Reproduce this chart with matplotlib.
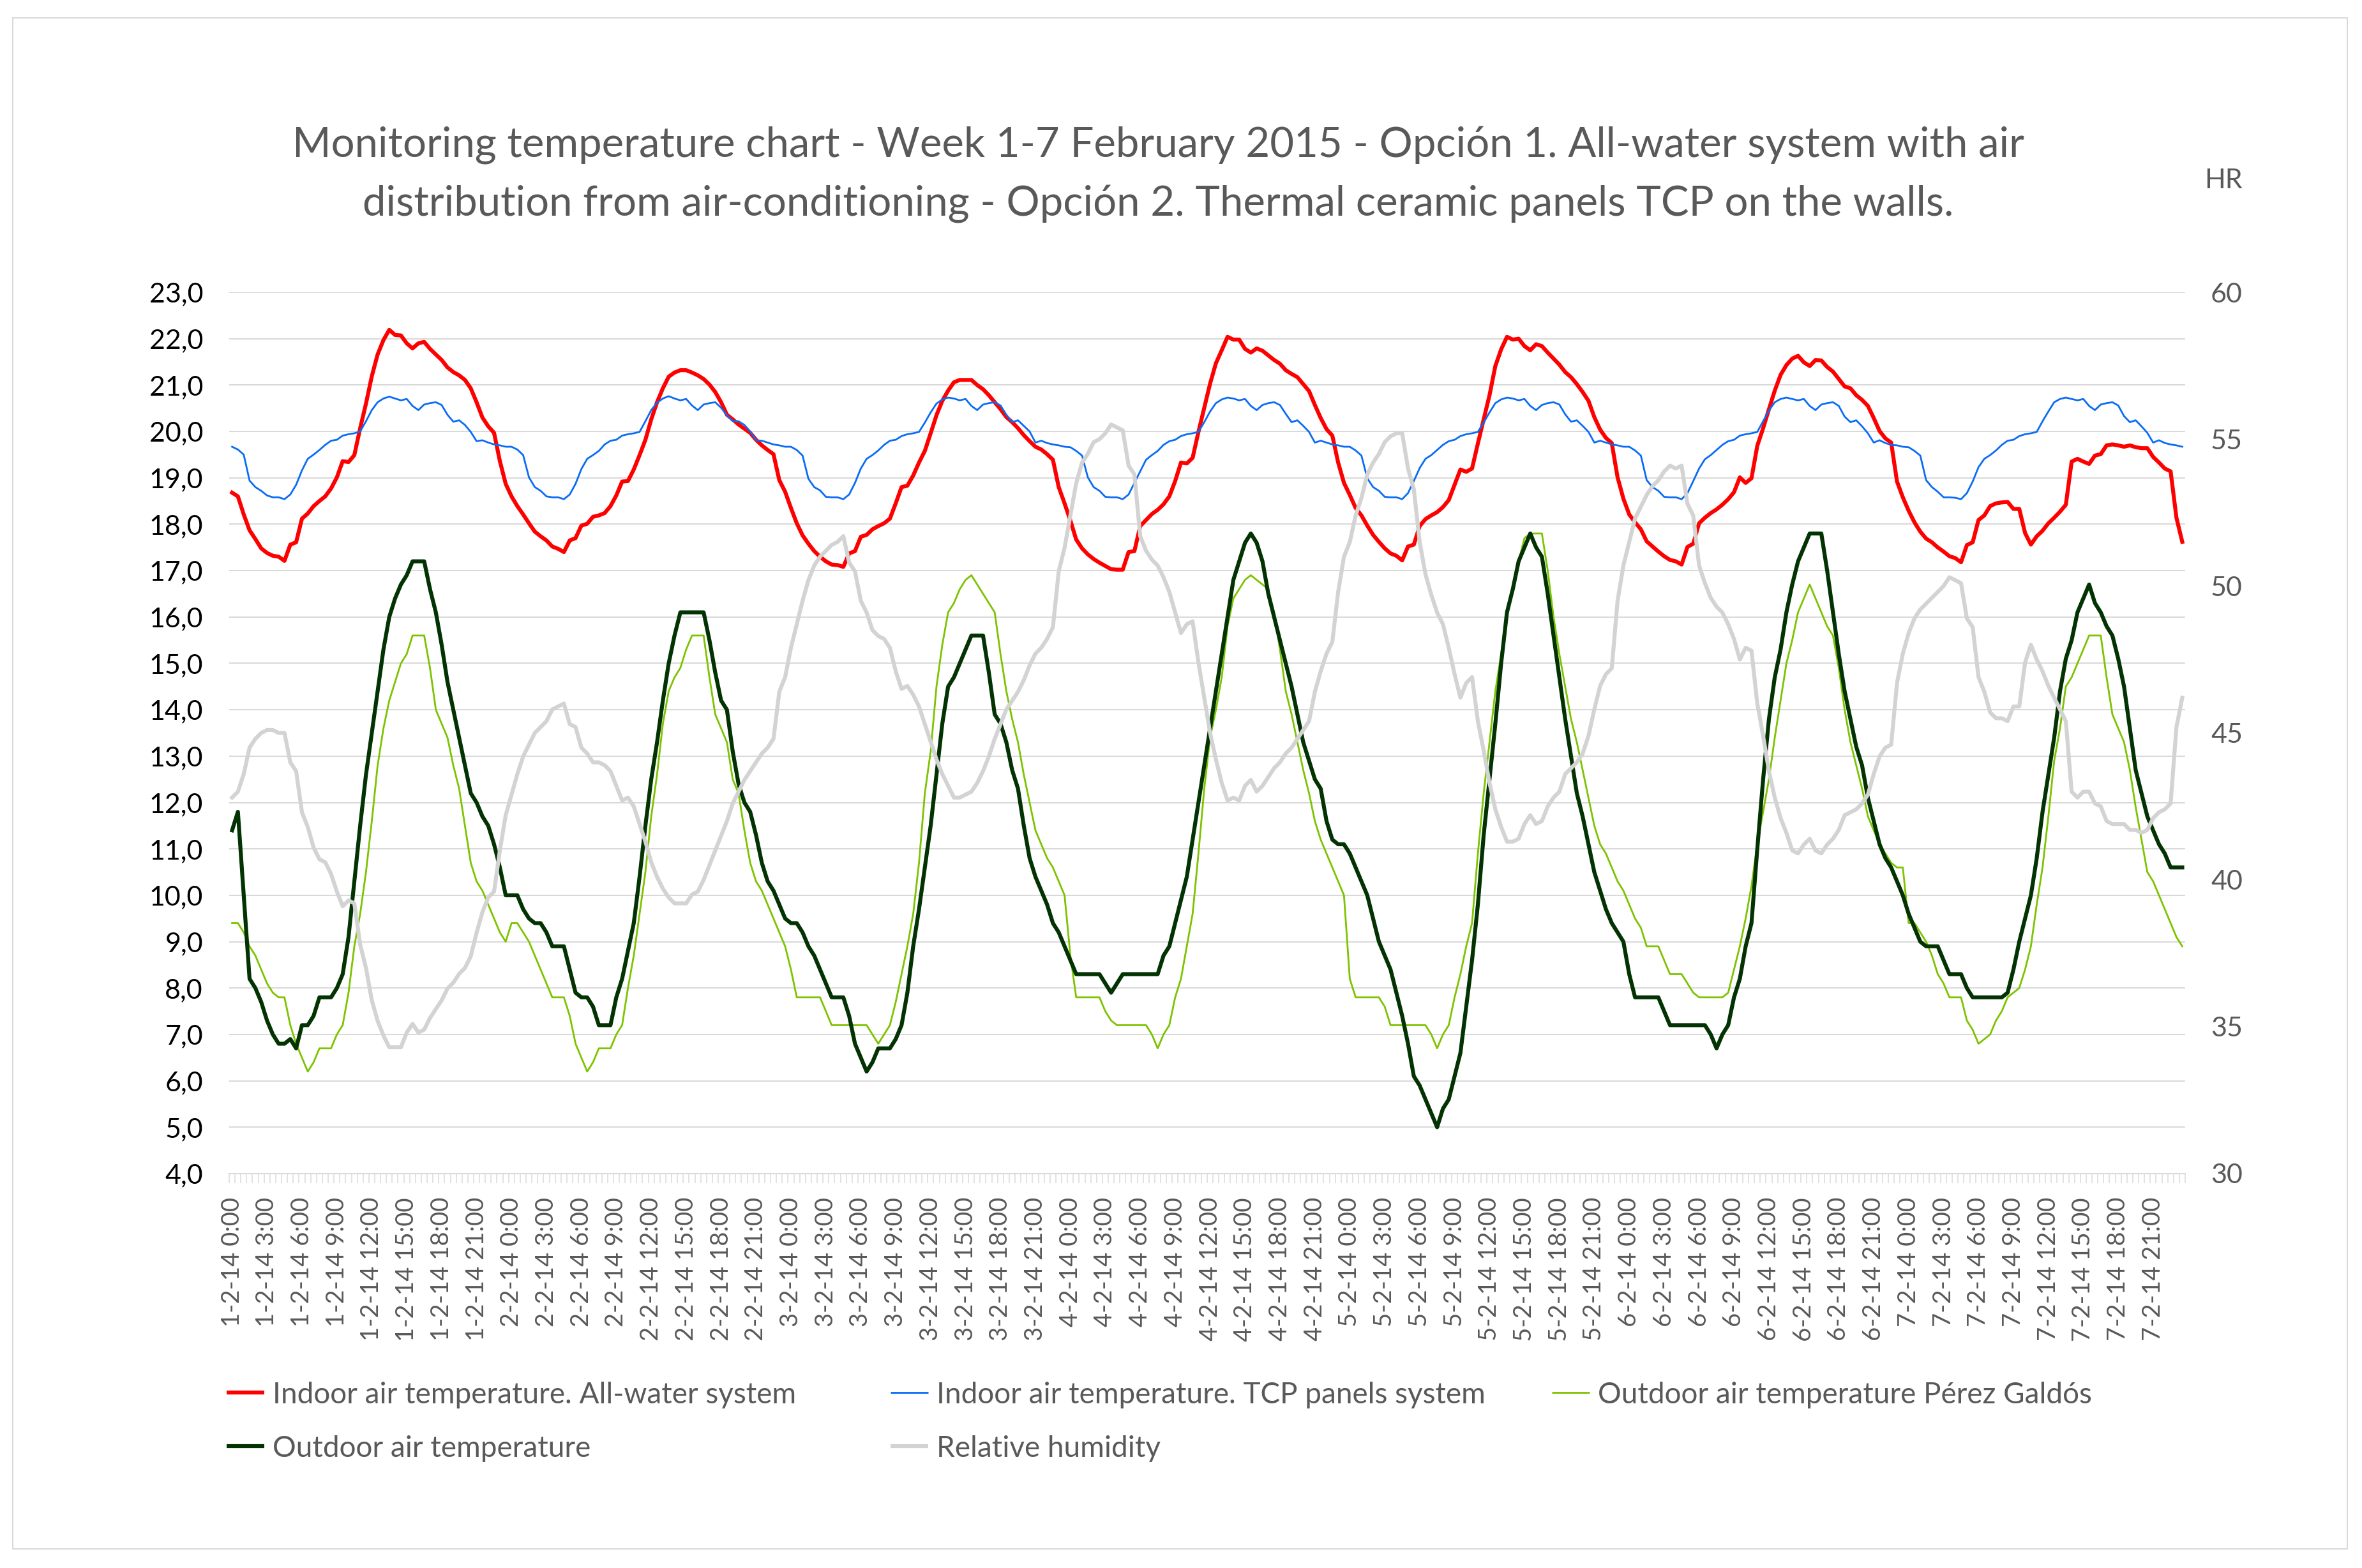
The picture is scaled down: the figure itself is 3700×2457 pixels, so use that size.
import numpy as np
import matplotlib
matplotlib.use("Agg")
import matplotlib.pyplot as plt
from matplotlib.lines import Line2D
from matplotlib.patches import Rectangle

plt.rcParams['font.family'] = ['Lato', 'DejaVu Sans']

# Half-hourly readings, 1-2-14 0:00 to 7-2-14 23:30 (336 values each)
indoor_allwater = [
    18.68, 18.60, 18.21, 17.87, 17.68, 17.48, 17.38, 17.32, 17.30, 17.21, 17.56, 17.61,
    18.12, 18.23, 18.39, 18.50, 18.60, 18.77, 19.01, 19.36, 19.34, 19.49, 20.07, 20.60,
    21.19, 21.66, 21.97, 22.19, 22.08, 22.07, 21.90, 21.79, 21.90, 21.93, 21.78, 21.66,
    21.54, 21.38, 21.28, 21.21, 21.11, 20.93, 20.63, 20.30, 20.11, 19.97, 19.36, 18.87,
    18.60, 18.39, 18.21, 18.02, 17.84, 17.74, 17.65, 17.52, 17.47, 17.40, 17.65, 17.70,
    17.97, 18.01, 18.16, 18.19, 18.24, 18.39, 18.62, 18.92, 18.93, 19.18, 19.49, 19.82,
    20.26, 20.63, 20.93, 21.18, 21.27, 21.32, 21.32, 21.27, 21.21, 21.13, 21.01, 20.85,
    20.63, 20.36, 20.26, 20.15, 20.06, 19.97, 19.82, 19.70, 19.60, 19.51, 18.95, 18.70,
    18.35, 18.02, 17.76, 17.58, 17.42, 17.30, 17.20, 17.13, 17.12, 17.08, 17.37, 17.42,
    17.73, 17.77, 17.89, 17.96, 18.02, 18.12, 18.45, 18.80, 18.83, 19.05, 19.33, 19.58,
    19.96, 20.35, 20.66, 20.88, 21.06, 21.11, 21.11, 21.11, 21.00, 20.91, 20.78, 20.63,
    20.48, 20.31, 20.20, 20.07, 19.92, 19.79, 19.67, 19.61, 19.51, 19.39, 18.80, 18.45,
    18.08, 17.67, 17.48, 17.35, 17.25, 17.17, 17.10, 17.03, 17.02, 17.02, 17.40, 17.42,
    17.96, 18.09, 18.22, 18.31, 18.43, 18.60, 18.93, 19.33, 19.31, 19.43, 19.99, 20.51,
    21.03, 21.47, 21.75, 22.04, 21.98, 21.98, 21.78, 21.70, 21.79, 21.74, 21.64, 21.54,
    21.46, 21.32, 21.24, 21.17, 21.02, 20.87, 20.57, 20.29, 20.05, 19.91, 19.33, 18.89,
    18.63, 18.35, 18.19, 17.97, 17.77, 17.62, 17.48, 17.37, 17.32, 17.22, 17.52, 17.56,
    17.96, 18.11, 18.19, 18.26, 18.37, 18.52, 18.85, 19.18, 19.13, 19.20, 19.74, 20.26,
    20.78, 21.41, 21.77, 22.04, 21.98, 22.00, 21.84, 21.75, 21.88, 21.84, 21.70, 21.57,
    21.44, 21.28, 21.17, 21.02, 20.85, 20.66, 20.31, 20.04, 19.86, 19.75, 19.01, 18.55,
    18.21, 18.04, 17.89, 17.63, 17.52, 17.41, 17.31, 17.23, 17.20, 17.13, 17.51, 17.58,
    18.02, 18.14, 18.24, 18.32, 18.42, 18.54, 18.69, 19.01, 18.89, 18.99, 19.69, 20.07,
    20.48, 20.88, 21.22, 21.43, 21.57, 21.63, 21.49, 21.41, 21.54, 21.53, 21.39, 21.29,
    21.13, 20.97, 20.93, 20.78, 20.68, 20.55, 20.29, 20.01, 19.85, 19.76, 18.92, 18.58,
    18.29, 18.04, 17.84, 17.69, 17.61, 17.50, 17.41, 17.31, 17.27, 17.18, 17.55, 17.61,
    18.09, 18.19, 18.39, 18.45, 18.47, 18.48, 18.33, 18.33, 17.81, 17.56, 17.74, 17.86,
    18.02, 18.14, 18.27, 18.42, 19.35, 19.41, 19.35, 19.30, 19.48, 19.51, 19.70, 19.72,
    19.70, 19.67, 19.70, 19.66, 19.64, 19.64, 19.45, 19.33, 19.20, 19.14, 18.14, 17.62,
]

indoor_tcp = [
    19.67, 19.61, 19.50, 18.94, 18.80, 18.72, 18.62, 18.58, 18.58, 18.54, 18.64, 18.85,
    19.16, 19.41, 19.50, 19.60, 19.71, 19.80, 19.82, 19.91, 19.94, 19.96, 20.00, 20.22,
    20.46, 20.63, 20.71, 20.75, 20.71, 20.67, 20.70, 20.55, 20.46, 20.58, 20.61, 20.63,
    20.57, 20.36, 20.21, 20.24, 20.14, 19.99, 19.79, 19.81, 19.76, 19.72, 19.70, 19.67,
    19.67, 19.61, 19.49, 19.01, 18.80, 18.72, 18.60, 18.58, 18.58, 18.54, 18.64, 18.87,
    19.19, 19.41, 19.49, 19.58, 19.72, 19.80, 19.82, 19.91, 19.94, 19.96, 19.99, 20.22,
    20.46, 20.62, 20.71, 20.76, 20.71, 20.67, 20.70, 20.56, 20.46, 20.58, 20.61, 20.63,
    20.51, 20.35, 20.22, 20.22, 20.14, 20.00, 19.81, 19.80, 19.76, 19.72, 19.70, 19.67,
    19.67, 19.60, 19.48, 18.98, 18.80, 18.73, 18.59, 18.58, 18.58, 18.54, 18.64, 18.89,
    19.20, 19.41, 19.49, 19.59, 19.71, 19.80, 19.82, 19.90, 19.94, 19.96, 19.99, 20.19,
    20.41, 20.60, 20.69, 20.73, 20.71, 20.67, 20.70, 20.55, 20.46, 20.58, 20.61, 20.63,
    20.56, 20.36, 20.20, 20.24, 20.12, 20.00, 19.76, 19.80, 19.75, 19.72, 19.70, 19.67,
    19.66, 19.58, 19.48, 19.01, 18.80, 18.72, 18.59, 18.58, 18.58, 18.54, 18.64, 18.89,
    19.14, 19.39, 19.49, 19.58, 19.71, 19.79, 19.82, 19.90, 19.94, 19.96, 19.99, 20.20,
    20.43, 20.61, 20.69, 20.73, 20.71, 20.67, 20.70, 20.55, 20.46, 20.57, 20.61, 20.63,
    20.57, 20.38, 20.20, 20.24, 20.12, 19.99, 19.76, 19.80, 19.76, 19.72, 19.70, 19.67,
    19.67, 19.59, 19.48, 18.99, 18.80, 18.72, 18.59, 18.58, 18.58, 18.54, 18.67, 18.93,
    19.21, 19.41, 19.49, 19.60, 19.71, 19.79, 19.82, 19.90, 19.94, 19.96, 19.99, 20.19,
    20.41, 20.61, 20.69, 20.73, 20.71, 20.67, 20.70, 20.55, 20.46, 20.57, 20.61, 20.63,
    20.58, 20.37, 20.21, 20.24, 20.12, 19.99, 19.76, 19.80, 19.76, 19.72, 19.70, 19.67,
    19.67, 19.59, 19.48, 18.95, 18.80, 18.72, 18.59, 18.58, 18.58, 18.54, 18.67, 18.93,
    19.20, 19.40, 19.49, 19.60, 19.71, 19.79, 19.82, 19.91, 19.94, 19.96, 19.99, 20.22,
    20.45, 20.63, 20.70, 20.73, 20.70, 20.67, 20.70, 20.55, 20.46, 20.58, 20.61, 20.63,
    20.55, 20.32, 20.20, 20.24, 20.11, 19.96, 19.76, 19.81, 19.75, 19.71, 19.70, 19.67,
    19.66, 19.58, 19.48, 18.95, 18.80, 18.70, 18.58, 18.58, 18.57, 18.54, 18.67, 18.92,
    19.23, 19.41, 19.49, 19.59, 19.71, 19.80, 19.82, 19.90, 19.94, 19.96, 19.99, 20.22,
    20.43, 20.63, 20.70, 20.73, 20.70, 20.67, 20.70, 20.55, 20.46, 20.58, 20.61, 20.63,
    20.56, 20.33, 20.20, 20.24, 20.11, 19.97, 19.76, 19.81, 19.75, 19.72, 19.70, 19.67,
]

outdoor_perez_galdos = [
    9.4, 9.4, 9.2, 8.9, 8.7, 8.4, 8.1, 7.9, 7.8, 7.8, 7.2, 6.8,
    6.5, 6.2, 6.4, 6.7, 6.7, 6.7, 7.0, 7.2, 7.9, 8.9, 9.6, 10.5,
    11.6, 12.8, 13.6, 14.2, 14.6, 15.0, 15.2, 15.6, 15.6, 15.6, 14.9, 14.0,
    13.7, 13.4, 12.8, 12.3, 11.5, 10.7, 10.3, 10.1, 9.8, 9.5, 9.2, 9.0,
    9.4, 9.4, 9.2, 9.0, 8.7, 8.4, 8.1, 7.8, 7.8, 7.8, 7.4, 6.8,
    6.5, 6.2, 6.4, 6.7, 6.7, 6.7, 7.0, 7.2, 8.0, 8.7, 9.6, 10.5,
    11.7, 12.6, 13.7, 14.4, 14.7, 14.9, 15.3, 15.6, 15.6, 15.6, 14.7, 13.9,
    13.6, 13.3, 12.5, 12.2, 11.4, 10.7, 10.3, 10.1, 9.8, 9.5, 9.2, 8.9,
    8.4, 7.8, 7.8, 7.8, 7.8, 7.8, 7.5, 7.2, 7.2, 7.2, 7.2, 7.2,
    7.2, 7.2, 7.0, 6.8, 7.0, 7.2, 7.7, 8.3, 8.9, 9.6, 10.7, 12.2,
    13.1, 14.5, 15.4, 16.1, 16.3, 16.6, 16.8, 16.9, 16.7, 16.5, 16.3, 16.1,
    15.2, 14.4, 13.8, 13.3, 12.6, 12.0, 11.4, 11.1, 10.8, 10.6, 10.3, 10.0,
    8.7, 7.8, 7.8, 7.8, 7.8, 7.8, 7.5, 7.3, 7.2, 7.2, 7.2, 7.2,
    7.2, 7.2, 7.0, 6.7, 7.0, 7.2, 7.8, 8.2, 8.9, 9.6, 10.9, 12.3,
    13.4, 14.0, 14.7, 15.8, 16.4, 16.6, 16.8, 16.9, 16.8, 16.7, 16.6, 16.1,
    15.3, 14.4, 13.9, 13.3, 12.7, 12.2, 11.6, 11.2, 10.9, 10.6, 10.3, 10.0,
    8.2, 7.8, 7.8, 7.8, 7.8, 7.8, 7.6, 7.2, 7.2, 7.2, 7.2, 7.2,
    7.2, 7.2, 7.0, 6.7, 7.0, 7.2, 7.8, 8.3, 8.9, 9.4, 10.9, 12.2,
    13.3, 14.4, 15.2, 16.0, 16.6, 17.2, 17.7, 17.8, 17.8, 17.8, 17.0, 16.0,
    15.2, 14.5, 13.8, 13.3, 12.7, 12.1, 11.5, 11.1, 10.9, 10.6, 10.3, 10.1,
    9.8, 9.5, 9.3, 8.9, 8.9, 8.9, 8.6, 8.3, 8.3, 8.3, 8.1, 7.9,
    7.8, 7.8, 7.8, 7.8, 7.8, 7.9, 8.4, 8.9, 9.5, 10.2, 11.1, 11.8,
    12.5, 13.4, 14.2, 15.0, 15.5, 16.1, 16.4, 16.7, 16.4, 16.1, 15.8, 15.6,
    14.9, 14.0, 13.3, 12.8, 12.3, 11.7, 11.4, 11.1, 10.9, 10.7, 10.6, 10.6,
    9.4, 9.4, 9.2, 9.0, 8.7, 8.3, 8.1, 7.8, 7.8, 7.8, 7.3, 7.1,
    6.8, 6.9, 7.0, 7.3, 7.5, 7.8, 7.9, 8.0, 8.4, 8.9, 9.8, 10.6,
    11.7, 12.9, 13.6, 14.5, 14.7, 15.0, 15.3, 15.6, 15.6, 15.6, 14.7, 13.9,
    13.6, 13.3, 12.7, 11.9, 11.2, 10.5, 10.3, 10.0, 9.7, 9.4, 9.1, 8.9,
]

outdoor_air = [
    11.4, 11.8, 10.0, 8.2, 8.0, 7.7, 7.3, 7.0, 6.8, 6.8, 6.9, 6.7,
    7.2, 7.2, 7.4, 7.8, 7.8, 7.8, 8.0, 8.3, 9.1, 10.3, 11.5, 12.6,
    13.5, 14.4, 15.3, 16.0, 16.4, 16.7, 16.9, 17.2, 17.2, 17.2, 16.6, 16.1,
    15.4, 14.6, 14.0, 13.4, 12.8, 12.2, 12.0, 11.7, 11.5, 11.1, 10.6, 10.0,
    10.0, 10.0, 9.7, 9.5, 9.4, 9.4, 9.2, 8.9, 8.9, 8.9, 8.4, 7.9,
    7.8, 7.8, 7.6, 7.2, 7.2, 7.2, 7.8, 8.2, 8.8, 9.4, 10.4, 11.5,
    12.5, 13.3, 14.2, 15.0, 15.6, 16.1, 16.1, 16.1, 16.1, 16.1, 15.5, 14.8,
    14.2, 14.0, 13.1, 12.4, 12.0, 11.8, 11.3, 10.7, 10.3, 10.1, 9.8, 9.5,
    9.4, 9.4, 9.2, 8.9, 8.7, 8.4, 8.1, 7.8, 7.8, 7.8, 7.4, 6.8,
    6.5, 6.2, 6.4, 6.7, 6.7, 6.7, 6.9, 7.2, 7.9, 8.9, 9.7, 10.6,
    11.5, 12.6, 13.7, 14.5, 14.7, 15.0, 15.3, 15.6, 15.6, 15.6, 14.8, 13.9,
    13.7, 13.3, 12.7, 12.3, 11.5, 10.8, 10.4, 10.1, 9.8, 9.4, 9.2, 8.9,
    8.6, 8.3, 8.3, 8.3, 8.3, 8.3, 8.1, 7.9, 8.1, 8.3, 8.3, 8.3,
    8.3, 8.3, 8.3, 8.3, 8.7, 8.9, 9.4, 9.9, 10.4, 11.2, 12.0, 12.8,
    13.6, 14.4, 15.2, 16.0, 16.8, 17.2, 17.6, 17.8, 17.6, 17.2, 16.5, 16.0,
    15.5, 15.0, 14.5, 13.9, 13.3, 12.9, 12.5, 12.3, 11.6, 11.2, 11.1, 11.1,
    10.9, 10.6, 10.3, 10.0, 9.5, 9.0, 8.7, 8.4, 7.9, 7.4, 6.8, 6.1,
    5.9, 5.6, 5.3, 5.0, 5.4, 5.6, 6.1, 6.6, 7.6, 8.6, 9.8, 11.3,
    12.5, 13.7, 15.0, 16.1, 16.6, 17.2, 17.5, 17.8, 17.5, 17.3, 16.5, 15.6,
    14.7, 13.8, 13.0, 12.2, 11.7, 11.1, 10.5, 10.1, 9.7, 9.4, 9.2, 9.0,
    8.3, 7.8, 7.8, 7.8, 7.8, 7.8, 7.5, 7.2, 7.2, 7.2, 7.2, 7.2,
    7.2, 7.2, 7.0, 6.7, 7.0, 7.2, 7.8, 8.2, 8.9, 9.4, 11.0, 12.5,
    13.8, 14.7, 15.3, 16.1, 16.7, 17.2, 17.5, 17.8, 17.8, 17.8, 17.0, 16.1,
    15.2, 14.4, 13.8, 13.2, 12.8, 12.1, 11.6, 11.1, 10.8, 10.6, 10.3, 10.0,
    9.6, 9.3, 9.0, 8.9, 8.9, 8.9, 8.6, 8.3, 8.3, 8.3, 8.0, 7.8,
    7.8, 7.8, 7.8, 7.8, 7.8, 7.9, 8.4, 9.0, 9.5, 10.0, 10.8, 11.8,
    12.6, 13.4, 14.4, 15.1, 15.5, 16.1, 16.4, 16.7, 16.3, 16.1, 15.8, 15.6,
    15.1, 14.5, 13.6, 12.7, 12.2, 11.7, 11.4, 11.1, 10.9, 10.6, 10.6, 10.6,
]

relative_humidity = [
    42.8, 43.0, 43.6, 44.5, 44.8, 45.0, 45.1, 45.1, 45.0, 45.0, 44.0, 43.7,
    42.3, 41.8, 41.1, 40.7, 40.6, 40.2, 39.6, 39.1, 39.3, 39.2, 37.8, 37.0,
    35.9, 35.2, 34.7, 34.3, 34.3, 34.3, 34.8, 35.1, 34.8, 34.9, 35.3, 35.6,
    35.9, 36.3, 36.5, 36.8, 37.0, 37.4, 38.2, 38.9, 39.4, 39.6, 41.0, 42.2,
    42.9, 43.6, 44.2, 44.6, 45.0, 45.2, 45.4, 45.8, 45.9, 46.0, 45.3, 45.2,
    44.5, 44.3, 44.0, 44.0, 43.9, 43.7, 43.2, 42.7, 42.8, 42.5, 41.9, 41.3,
    40.6, 40.1, 39.7, 39.4, 39.2, 39.2, 39.2, 39.5, 39.6, 40.0, 40.5, 41.0,
    41.5, 42.0, 42.6, 43.0, 43.4, 43.7, 44.0, 44.3, 44.5, 44.8, 46.4, 46.9,
    47.9, 48.7, 49.5, 50.2, 50.7, 51.0, 51.2, 51.4, 51.5, 51.7, 50.8, 50.5,
    49.5, 49.1, 48.5, 48.3, 48.2, 47.9, 47.1, 46.5, 46.6, 46.3, 45.9, 45.3,
    44.7, 44.1, 43.6, 43.2, 42.8, 42.8, 42.9, 43.0, 43.3, 43.7, 44.2, 44.8,
    45.3, 45.8, 46.1, 46.4, 46.8, 47.3, 47.7, 47.9, 48.2, 48.6, 50.5, 51.3,
    52.4, 53.5, 54.2, 54.5, 54.9, 55.0, 55.2, 55.5, 55.4, 55.3, 54.1, 53.8,
    51.7, 51.2, 50.9, 50.7, 50.3, 49.8, 49.1, 48.4, 48.7, 48.8, 47.4, 46.2,
    45.0, 44.1, 43.3, 42.7, 42.8, 42.7, 43.2, 43.4, 43.0, 43.2, 43.5, 43.8,
    44.0, 44.3, 44.5, 44.8, 45.1, 45.4, 46.4, 47.1, 47.7, 48.1, 49.8, 51.0,
    51.5, 52.4, 53.0, 53.8, 54.2, 54.5, 54.9, 55.1, 55.2, 55.2, 54.0, 53.3,
    51.5, 50.4, 49.7, 49.1, 48.7, 47.9, 47.0, 46.2, 46.7, 46.9, 45.4, 44.4,
    43.3, 42.4, 41.8, 41.3, 41.3, 41.4, 41.9, 42.2, 41.9, 42.0, 42.5, 42.8,
    43.0, 43.6, 43.8, 44.0, 44.3, 44.9, 45.8, 46.6, 47.0, 47.2, 49.5, 50.7,
    51.5, 52.3, 52.7, 53.1, 53.4, 53.6, 53.9, 54.1, 54.0, 54.1, 52.8, 52.4,
    50.7, 50.1, 49.6, 49.3, 49.1, 48.7, 48.2, 47.5, 47.9, 47.8, 46.0, 44.9,
    43.7, 42.8, 42.1, 41.6, 41.0, 40.9, 41.2, 41.4, 41.0, 40.9, 41.2, 41.4,
    41.7, 42.2, 42.3, 42.4, 42.6, 42.9, 43.6, 44.2, 44.5, 44.6, 46.7, 47.7,
    48.4, 48.9, 49.2, 49.4, 49.6, 49.8, 50.0, 50.3, 50.2, 50.1, 48.9, 48.6,
    46.9, 46.4, 45.7, 45.5, 45.5, 45.4, 45.9, 45.9, 47.4, 48.0, 47.5, 47.1,
    46.6, 46.2, 45.8, 45.4, 43.0, 42.8, 43.0, 43.0, 42.6, 42.5, 42.0, 41.9,
    41.9, 41.9, 41.7, 41.7, 41.6, 41.7, 42.1, 42.3, 42.4, 42.6, 45.2, 46.2,
]

days = [1, 2, 3, 4, 5, 6, 7]
label_hours = [0, 3, 6, 9, 12, 15, 18, 21]
tick_labels = ["{}-2-14 {}:00".format(d, h) for d in days for h in label_hours]

series_names = [
    "Indoor air temperature. All-water system",
    "Indoor air temperature. TCP panels system",
    "Outdoor air temperature Pérez Galdós",
    "Outdoor air temperature",
    "Relative humidity",
]

title_lines = [
    "Monitoring temperature chart - Week 1-7 February 2015 - Opción 1. All-water system with air",
    "distribution from air-conditioning - Opción 2. Thermal ceramic panels TCP on the walls.",
]

# styling
RED = "#FF0000"
BLUE = "#0A6CF5"
LIGHT_GREEN = "#7DC300"
DARK_GREEN = "#033303"
GREY_LINE = "#D3D3D3"
TEXT = "#595959"
GRID = "#D9D9D9"

W, H = 3700, 2457
PX = 72 / 100  # points per pixel at dpi 100


def fx(px):
    return px / W


def fy(py):
    return 1 - py / H


fig = plt.figure(figsize=(W / 100, H / 100), dpi=100)
fig.patch.set_facecolor("white")

# chart border
fig.add_artist(Rectangle((fx(20), fy(2427)), fx(3677) - fx(20), fy(28) - fy(2427),
                         transform=fig.transFigure, fill=False,
                         edgecolor=GRID, linewidth=2 * PX))

ax = fig.add_axes([fx(359), fy(1839), fx(3423) - fx(359), fy(458) - fy(1839)])
ax2 = ax.twinx()

x = np.arange(len(indoor_allwater))
thick = 6.2 * PX
thin = 2.8 * PX
h_red, = ax.plot(x, indoor_allwater, color=RED, lw=thick, solid_joinstyle="round", zorder=3)
h_blue, = ax.plot(x, indoor_tcp, color=BLUE, lw=thin, solid_joinstyle="round", zorder=4)
h_lg, = ax.plot(x, outdoor_perez_galdos, color=LIGHT_GREEN, lw=thin, solid_joinstyle="round", zorder=5)
h_dg, = ax.plot(x, outdoor_air, color=DARK_GREEN, lw=thick, solid_joinstyle="round", zorder=6)
h_rh, = ax2.plot(x, relative_humidity, color=GREY_LINE, lw=thick, solid_joinstyle="round", zorder=3)

ax.set_xlim(-0.5, len(x) - 0.5)
ax.set_ylim(4, 23)
ax2.set_ylim(30, 60)

yt = np.arange(4, 24)
ax.set_yticks(yt)
ax.set_yticklabels(["{:.1f}".format(v).replace(".", ",") for v in yt])
ax.tick_params(axis="y", length=0, pad=41 * PX, labelsize=31, labelcolor="black")
ax.yaxis.grid(True, color=GRID, linewidth=2 * PX)
ax.set_axisbelow(True)

ax2.set_yticks(np.arange(30, 61, 5))
ax2.tick_params(axis="y", length=0, pad=40 * PX, labelsize=31, labelcolor=TEXT)

ax.set_xticks(np.arange(0, len(x), 6))
ax.set_xticklabels(tick_labels, rotation=90)
ax.set_xticks(np.arange(-0.5, len(x), 1), minor=True)
ax.tick_params(axis="x", which="major", length=0, pad=37 * PX, labelsize=27.5, labelcolor=TEXT)
ax.tick_params(axis="x", which="minor", length=15 * PX, width=1.5 * PX, color=GRID, direction="out")

for a in (ax, ax2):
    for s in ("top", "left", "right", "bottom"):
        a.spines[s].set_visible(False)
ax.spines["bottom"].set_visible(True)
ax.spines["bottom"].set_color(GRID)
ax.spines["bottom"].set_linewidth(2 * PX)

# titles
fig.text(fx(1814), fy(246), title_lines[0], ha="center", va="baseline", fontsize=47, color=TEXT)
fig.text(fx(1814), fy(339), title_lines[1], ha="center", va="baseline", fontsize=47, color=TEXT)
fig.text(fx(3453), fy(295), "HR", ha="left", va="baseline", fontsize=31, color=TEXT)

# legend, laid out like the original (3 columns, 2 rows)
legend_items = [
    (h_red, series_names[0], 355, 2182),
    (h_blue, series_names[1], 1395, 2182),
    (h_lg, series_names[2], 2431, 2182),
    (h_dg, series_names[3], 355, 2266),
    (h_rh, series_names[4], 1395, 2266),
]
for handle, name, lx, ly in legend_items:
    fig.add_artist(Line2D([fx(lx), fx(lx + 59)], [fy(ly), fy(ly)], transform=fig.transFigure,
                          color=handle.get_color(), lw=handle.get_linewidth(),
                          solid_capstyle="butt"))
    fig.text(fx(lx + 72), fy(ly + 17), name, ha="left", va="baseline", fontsize=33, color=TEXT)

fig.savefig("out.png", dpi=100, facecolor="white")
